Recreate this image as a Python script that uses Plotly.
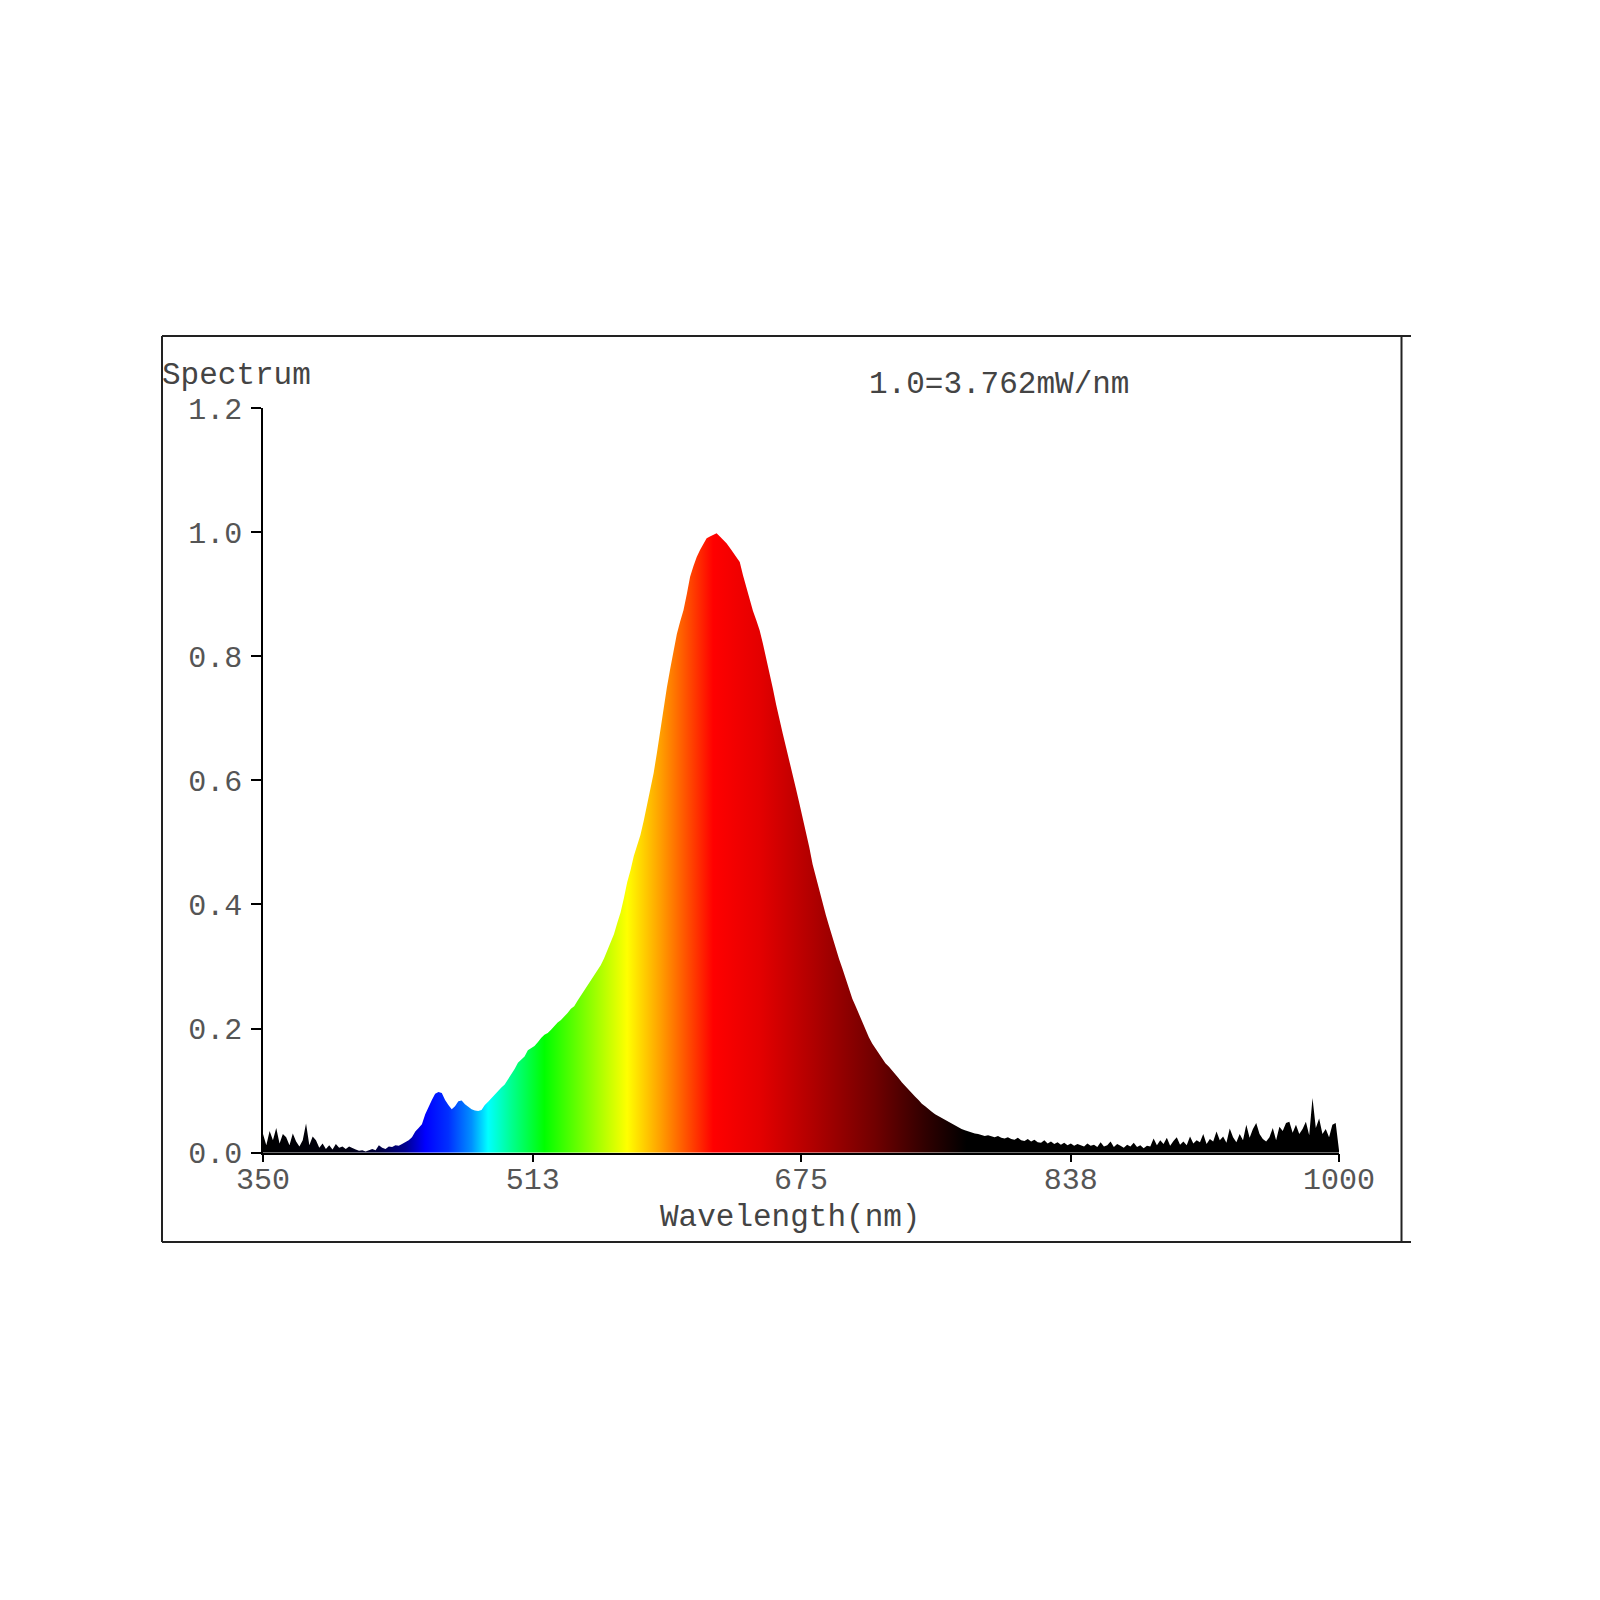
import plotly.graph_objects as go

# ---------------- data ----------------
wavelength_nm = list(range(350, 1001, 2))

intensity = [
    # 350 - 398
    0.030, 0.012, 0.035, 0.020, 0.040, 0.015, 0.030, 0.025, 0.012, 0.031,
    0.018, 0.010, 0.020, 0.047, 0.012, 0.026, 0.020, 0.008, 0.015, 0.006,
    0.012, 0.005, 0.014, 0.008, 0.010,
    # 400 - 448
    0.006, 0.010, 0.007, 0.005, 0.003, 0.004, 0.002, 0.004, 0.006, 0.004,
    0.012, 0.008, 0.006, 0.010, 0.009, 0.012, 0.011, 0.014, 0.017, 0.020,
    0.025, 0.034, 0.040, 0.046, 0.062,
    # 450 - 498
    0.075, 0.085, 0.095, 0.098, 0.096, 0.085, 0.077, 0.070, 0.075, 0.083,
    0.084, 0.078, 0.074, 0.070, 0.068, 0.067, 0.069, 0.077, 0.082, 0.088,
    0.094, 0.100, 0.105, 0.110, 0.118,
    # 500 - 548
    0.125, 0.135, 0.145, 0.150, 0.155, 0.165, 0.168, 0.172, 0.178, 0.185,
    0.190, 0.193, 0.198, 0.204, 0.210, 0.214, 0.219, 0.225, 0.232, 0.236,
    0.245, 0.253, 0.262, 0.268, 0.277,
    # 550 - 598
    0.285, 0.294, 0.302, 0.313, 0.327, 0.338, 0.352, 0.370, 0.387, 0.410,
    0.436, 0.455, 0.478, 0.495, 0.512, 0.535, 0.560, 0.585, 0.612, 0.645,
    0.680, 0.720, 0.750, 0.780, 0.810,
    # 600 - 648
    0.836, 0.856, 0.874, 0.900, 0.928, 0.945, 0.960, 0.971, 0.980, 0.990,
    0.993, 0.996, 0.998, 0.993, 0.988, 0.982, 0.975, 0.968, 0.960, 0.952,
    0.930, 0.910, 0.890, 0.873, 0.858,
    # 650 - 698
    0.842, 0.820, 0.797, 0.773, 0.748, 0.722, 0.697, 0.675, 0.653, 0.632,
    0.609, 0.586, 0.563, 0.540, 0.516, 0.492, 0.465, 0.444, 0.425, 0.403,
    0.383, 0.365, 0.346, 0.328, 0.312,
    # 700 - 748
    0.297, 0.281, 0.264, 0.248, 0.236, 0.223, 0.210, 0.197, 0.186, 0.176,
    0.168, 0.160, 0.152, 0.144, 0.139, 0.133, 0.126, 0.120, 0.113, 0.107,
    0.102, 0.096, 0.090, 0.085, 0.079,
    # 750 - 798
    0.075, 0.070, 0.066, 0.062, 0.059, 0.055, 0.053, 0.050, 0.046, 0.043,
    0.040, 0.038, 0.036, 0.034, 0.033, 0.031, 0.030, 0.029, 0.027, 0.028,
    0.026, 0.025, 0.027, 0.024, 0.023,
    # 800 - 848
    0.025, 0.022, 0.021, 0.024, 0.020, 0.019, 0.022, 0.018, 0.021, 0.017,
    0.016, 0.020, 0.015, 0.018, 0.014, 0.017, 0.013, 0.016, 0.012, 0.015,
    0.011, 0.014, 0.012, 0.010, 0.015,
    # 850 - 898
    0.011, 0.013, 0.009, 0.017, 0.010, 0.012, 0.018, 0.009, 0.014, 0.011,
    0.008, 0.013, 0.010, 0.016, 0.009, 0.012, 0.007, 0.011, 0.010, 0.023,
    0.012, 0.020, 0.014, 0.024, 0.011,
    # 900 - 948
    0.019, 0.025, 0.013, 0.018, 0.012, 0.026, 0.015, 0.020, 0.017, 0.030,
    0.014, 0.022, 0.018, 0.034, 0.020, 0.026, 0.016, 0.039, 0.025, 0.017,
    0.030, 0.020, 0.045, 0.024, 0.038,
    # 950 - 998
    0.048, 0.030, 0.022, 0.018, 0.025, 0.040, 0.020, 0.042, 0.035, 0.048,
    0.050, 0.032, 0.045, 0.030, 0.038, 0.050, 0.028, 0.088, 0.040, 0.055,
    0.030, 0.038, 0.025, 0.045, 0.048,
    # 1000
    0.004,
]

x_tick_vals = [350, 513, 675, 838, 1000]
x_tick_text = ["350", "513", "675", "838", "1000"]
y_tick_vals = [0.0, 0.2, 0.4, 0.6, 0.8, 1.0, 1.2]
y_tick_text = ["0.0", "0.2", "0.4", "0.6", "0.8", "1.0", "1.2"]

# wavelength -> display colour stops (style)
color_nm = [350, 400, 420, 436, 448, 462, 476, 486, 500, 520, 545, 570,
            590, 606, 622, 650, 680, 720, 750, 775, 1000]
color_rgb = ["#000000", "#000010", "#000040", "#000090", "#0000ff", "#0030ff",
             "#0090ff", "#00ffff", "#00ff90", "#00ff00", "#80ff00", "#ffff00",
             "#ffa000", "#ff5000", "#ff0000", "#e40000", "#b40000", "#700000",
             "#300000", "#000000", "#000000"]

# ---------------- figure ----------------
W = H = 1600
XMIN, XMAX = 350, 1000
colorscale = [[(c - XMIN) / (XMAX - XMIN), col] for c, col in zip(color_nm, color_rgb)]


def px(v):
    return v / W


def py(v):
    return 1 - v / H


fig = go.Figure()
fig.add_trace(go.Scatter(
    x=wavelength_nm, y=intensity, mode="lines",
    line=dict(width=0, color="rgba(0,0,0,0)"),
    fill="tozeroy",
    fillgradient=dict(type="horizontal", colorscale=colorscale,
                      start=XMIN, stop=XMAX),
    hoverinfo="skip", showlegend=False,
))

FONT = "Liberation Mono, Courier New, monospace"
TICKFONT = dict(family=FONT, size=30, color="#555555")

# layout positions (figure pixels; page body adds an 8px margin)
AX_L, AX_R = 255, 1331
AX_T, AX_B = 400, 1144.7
FR_L, FR_R, FR_T, FR_B = 154, 1393.5, 328, 1234
FR_EXT = 1403

fig.update_layout(
    width=W, height=H,
    margin=dict(l=0, r=0, t=0, b=0),
    paper_bgcolor="white", plot_bgcolor="white",
    showlegend=False,
    xaxis=dict(
        domain=[px(AX_L), px(AX_R)], range=[XMIN, XMAX],
        tickmode="array", tickvals=x_tick_vals, ticktext=x_tick_text,
        ticks="outside", ticklen=8, tickwidth=1.5, tickcolor="#000",
        showline=True, linecolor="#000", linewidth=1.5,
        showgrid=False, zeroline=False, tickfont=TICKFONT,
        ticklabelstandoff=-9, automargin=False,
        anchor="y",
    ),
    yaxis=dict(
        domain=[py(AX_B), py(AX_T)], range=[0, 1.2],
        tickmode="array", tickvals=y_tick_vals, ticktext=y_tick_text,
        ticks="outside", ticklen=10, tickwidth=1.5, tickcolor="#000",
        showline=True, linecolor="#000", linewidth=1.5,
        showgrid=False, zeroline=False, tickfont=TICKFONT,
        ticklabelstandoff=3, automargin=False,
        anchor="x",
    ),
)

# outer frame
frame = dict(type="line", xref="paper", yref="paper", line=dict(color="#222", width=2))
fig.add_shape(**frame, x0=px(FR_L), x1=px(FR_EXT), y0=py(FR_T), y1=py(FR_T))
fig.add_shape(**frame, x0=px(FR_L), x1=px(FR_EXT), y0=py(FR_B), y1=py(FR_B))
fig.add_shape(**frame, x0=px(FR_L), x1=px(FR_L), y0=py(FR_T), y1=py(FR_B))
fig.add_shape(**frame, x0=px(FR_R), x1=px(FR_R), y0=py(FR_T), y1=py(FR_B))

fig.add_annotation(text="Spectrum", xref="paper", yref="paper",
                   x=px(FR_L - 2), y=py(367), xanchor="left", yanchor="middle",
                   showarrow=False, font=dict(family=FONT, size=31, color="#444"))
fig.add_annotation(text="1.0=3.762mW/nm", xref="paper", yref="paper",
                   x=px(859), y=py(376), xanchor="left", yanchor="middle",
                   showarrow=False, font=dict(family=FONT, size=31, color="#444"))
fig.add_annotation(text="Wavelength(nm)", xref="paper", yref="paper",
                   x=px(782), y=py(1209), xanchor="center", yanchor="middle",
                   showarrow=False, font=dict(family=FONT, size=31, color="#444"))

fig.write_html("out.html")
